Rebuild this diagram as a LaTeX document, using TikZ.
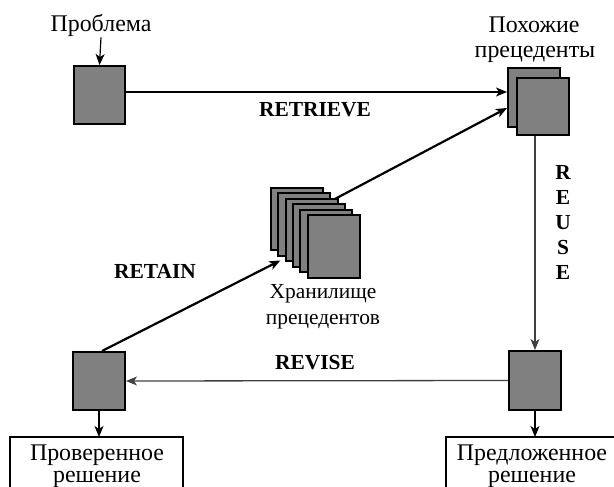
\documentclass[tikz,border=0pt]{standalone}
\usepackage{fontspec}
\setmainfont{Liberation Serif}
\usetikzlibrary{arrows.meta}
\definecolor{cardgray}{RGB}{128,128,128}
\begin{document}
\begin{tikzpicture}[x=1bp,y=-1bp,
  card/.style={draw=black, line width=2bp, fill=cardgray, inner sep=0pt},
  caption/.style={font=\fontsize{24}{26}\selectfont, anchor=base, inner sep=0pt},
  small caption/.style={font=\fontsize{21.5}{26}\selectfont, anchor=base, inner sep=0pt},
  stage/.style={font=\bfseries\fontsize{21.5}{25}\selectfont, anchor=base, inner sep=0pt},
  tip/.style={-{Stealth[length=11bp,width=9bp,inset=3bp]}},
  thin link/.style={tip, line width=1.3bp},
  thick link/.style={tip, line width=2.2bp}]
\useasboundingbox (0,0) rectangle (614,487);

% cards
\node[card, minimum width=51bp, minimum height=58bp] (prob) at (99.5,95) {};
\node[card, minimum width=52bp, minimum height=59bp] (simback) at (534,97.5) {};
\node[card, minimum width=52bp, minimum height=57bp] (sim) at (543,106.5) {};
\node[card, minimum width=52bp, minimum height=58bp] (chk) at (99,381) {};
\node[card, minimum width=52bp, minimum height=59bp] (sug) at (535,380.5) {};

% link from the case base to the similar cases, drawn behind the stack
\coordinate (s0) at (297,219);
\draw[thick link] (s0) -- ([yshift=-10.5bp]simback.west);

% stack of stored cases
\foreach \i in {1,...,6}
  \node[card, minimum width=52bp, minimum height=62bp] (s\i) at (297+7.3*\i-7.3,219+5.5*\i-5.5) {};

% captions
\node[caption] (problabel) at (101,32) {Проблема};
\node[caption] (simlabel1) at (534,33) {Похожие};
\node[caption] (simlabel2) at (535,58) {прецеденты};
\node[small caption] (storelabel1) at (323,298) {Хранилище};
\node[small caption] (storelabel2) at (323,324) {прецедентов};

% stage names
\node[stage] (retrieve) at (315,116.5) {RETRIEVE};
\node[stage] (revise) at (315,369) {REVISE};
\node[stage] (retain) at (155,278) {RETAIN};
\foreach \c [count=\k] in {R,E,U,S,E}
  \node[stage] (reuse\k) at (563,180+24.75*\k-24.75) {\c};

% solution boxes, cut by the lower edge
\coordinate (verbox) at (96.5,437);
\coordinate (propbox) at (532,437);
\draw[line width=2bp] (10,510) |- (183,437) -- (183,510);
\draw[line width=2bp] (446,510) |- (640,437);
\node[caption] (ver1) at (97,460.5) {Проверенное};
\node[caption] (ver2) at (97,482) {решение};
\node[caption] (prop1) at (532,460.5) {Предложенное};
\node[caption] (prop2) at (532,482) {решение};

% connectors
\draw[thin link, line width=1.2bp] (problabel.south) -- (prob.north);
\draw[thin link, line width=1.2bp] ([yshift=3bp]prob.east) -- ([yshift=3bp]prob.east -| simback.west);
\draw[thin link, draw=black!75] (sug.north |- sim.south) -- (sug.north);
\draw[thin link, draw=black!75] (sug.west) -- (chk.east);
\draw[thick link] ([xshift=3bp]chk.north) -- ([xshift=-24bp,yshift=-4bp]s2.south);
\draw[thin link] (chk.south) -- (chk.south |- verbox);
\draw[thin link] (sug.south) -- (sug.south |- propbox);
\end{tikzpicture}
\end{document}
